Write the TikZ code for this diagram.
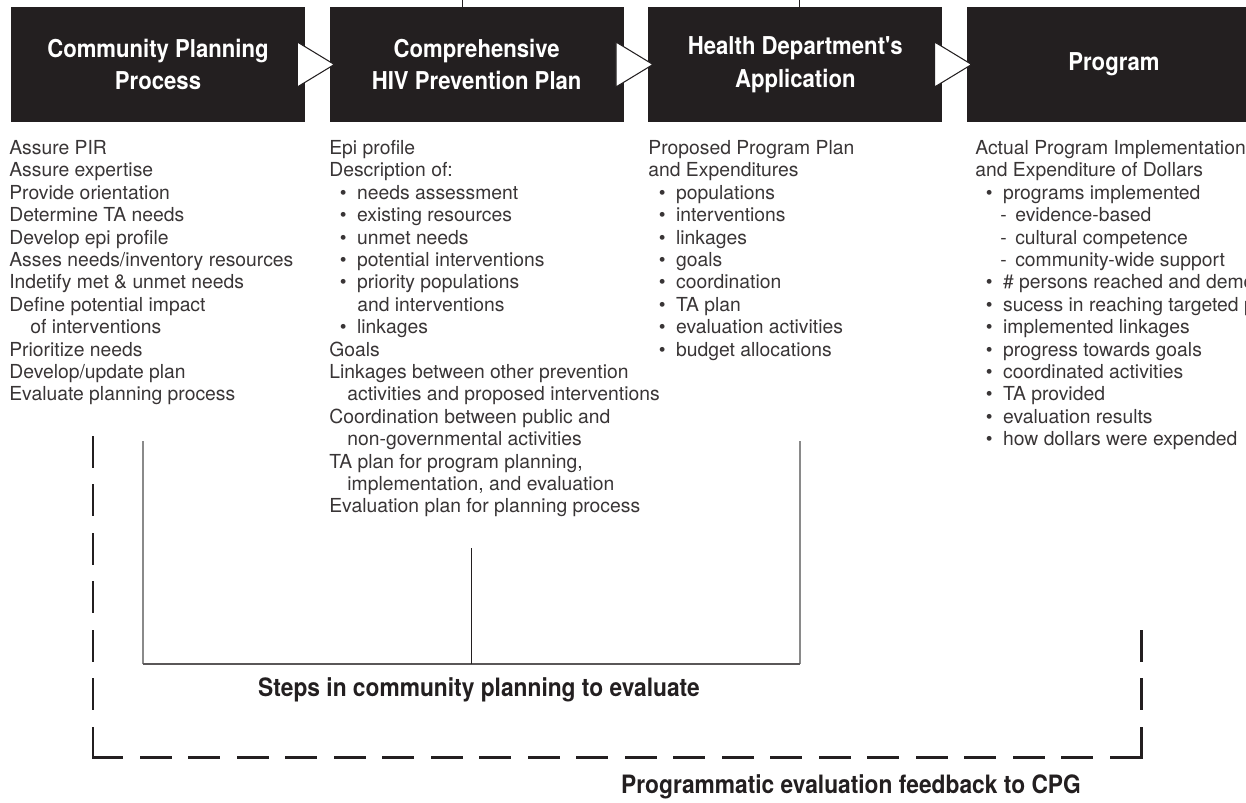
\documentclass[tikz,border=0pt]{standalone}
\usepackage{fontspec}
\setmainfont{TeX Gyre Heros}
\newfontfamily\condfont[FakeStretch=0.9]{TeX Gyre Heros}
\usepackage{tikz}
\usetikzlibrary{positioning,calc}
\definecolor{ink}{HTML}{231F20}
\definecolor{linegray}{HTML}{8A8A8A}

% list helpers
\newcommand{\bul}{\hspace*{0.21cm}\textbullet\hspace*{0.21cm}}
\newcommand{\subdash}{\hspace*{0.5cm}-\hspace*{0.17cm}}

\begin{document}
\begin{tikzpicture}[x=0.02cm,y=-0.02cm,
    stagebox/.style={fill=ink, text=white, minimum width=5.88cm, minimum height=2.3cm,
        align=center, inner sep=0pt, font=\condfont\bfseries\fontsize{14}{18.5}\selectfont},
    listtext/.style={anchor=north west, align=left, inner sep=0pt, text=ink!90,
        font=\fontsize{11}{12.75}\selectfont},
    pointer/.style={fill=white, draw=ink, line width=0.6pt},
    bracket/.style={draw=linegray, line width=0.9pt},
    feedback/.style={draw=ink, line width=1.7pt, line cap=rect, dash pattern=on 0.58cm off 0.39cm},
    caption/.style={text=ink, inner sep=0pt, font=\condfont\bfseries\fontsize{14.4}{17}\selectfont}]

    \clip (0,0) rectangle (1246,803);

    % Stages
    \node[stagebox] (cpp) at (158,64.5) {Community Planning\\Process};
    \node[stagebox, right=0.48cm of cpp] (plan) {Comprehensive\\HIV Prevention Plan};
    \node[stagebox, right=0.48cm of plan] (app) {Health Department's\\Application};
    \node[stagebox, right=0.48cm of app] (prog) {Program};

    % Pointers between stages
    \foreach \a in {cpp,plan,app}
        \draw[pointer] ($(\a.east)+(-8,-22.5)$) -- ++(0,45) -- ++(37,-22.5) -- cycle;

    % Stubs above the boxes
    \coordinate (stubA) at ($(plan.north)+(-14,0)$);
    \coordinate (stubB) at ($(app.north)+(4,0)$);
    \draw[ink, line width=0.8pt] (stubA) -- (stubA |- 0,0);
    \draw[ink, line width=0.8pt] (stubB) -- (stubB |- 0,0);

    % Lists under each stage
    \node[listtext] (cpp list) at (9,140) {Assure PIR\\
        Assure expertise\\
        Provide orientation\\
        Determine TA needs\\
        Develop epi profile\\
        Asses needs/inventory resources\\
        Indetify met \& unmet needs\\
        Define potential impact\\
        \hspace*{0.42cm}of interventions\\
        Prioritize needs\\
        Develop/update plan\\
        Evaluate planning process};

    \node[listtext] (plan list) at (329,140) {Epi profile\\
        Description of:\\
        \bul needs assessment\\
        \bul existing resources\\
        \bul unmet needs\\
        \bul potential interventions\\
        \bul priority populations\\
        \hspace*{0.56cm}and interventions\\
        \bul linkages\\
        Goals\\
        Linkages between other prevention\\
        \hspace*{0.36cm}activities and proposed interventions\\
        Coordination between public and\\
        \hspace*{0.36cm}non-governmental activities\\
        TA plan for program planning,\\
        \hspace*{0.36cm}implementation, and evaluation\\
        Evaluation plan for planning process};

    \node[listtext] (app list) at (648,140) {Proposed Program Plan\\
        and Expenditures\\
        \bul populations\\
        \bul interventions\\
        \bul linkages\\
        \bul goals\\
        \bul coordination\\
        \bul TA plan\\
        \bul evaluation activities\\
        \bul budget allocations};

    \node[listtext] (prog list) at (975,140) {Actual Program Implementation\\
        and Expenditure of Dollars\\
        \bul programs implemented\\
        \subdash evidence-based\\
        \subdash cultural competence\\
        \subdash community-wide support\\
        \bul \# persons reached and demographics\\
        \bul sucess in reaching targeted populations\\
        \bul implemented linkages\\
        \bul progress towards goals\\
        \bul coordinated activities\\
        \bul TA provided\\
        \bul evaluation results\\
        \bul how dollars were expended};

    % Bracket: steps to evaluate
    \coordinate (stepL) at (143,441);
    \coordinate (stepR) at (800,441);
    \coordinate (stepM) at (471,548);
    \coordinate (stepBL) at (143,664);
    \coordinate (stepBM) at (471,664);
    \coordinate (stepBR) at (800,664);
    \draw[bracket] (stepL) -- (stepBL);
    \draw[bracket] (stepR) -- (stepBR);
    \draw[bracket, draw=ink!75] (stepBL) -- (stepBR);
    \draw[ink, line width=0.5pt] (stepM) -- (stepBM);
    \node[caption] (steps label) at (479,690) {Steps in community planning to evaluate};

    % Feedback loop (dashed)
    \coordinate (fbL) at (93,435);
    \coordinate (fbBL) at (93,757);
    \coordinate (fbBR) at (1141,757);
    \coordinate (fbR) at (1141,622);
    \draw[feedback] (fbBL) -- (fbL);
    \draw[feedback] (fbBL) -- (fbBR);
    \draw[feedback] (fbBR) -- (fbR);
    \node[caption] (fb label) at (851,787) {Programmatic evaluation feedback to CPG};

\end{tikzpicture}
\end{document}
